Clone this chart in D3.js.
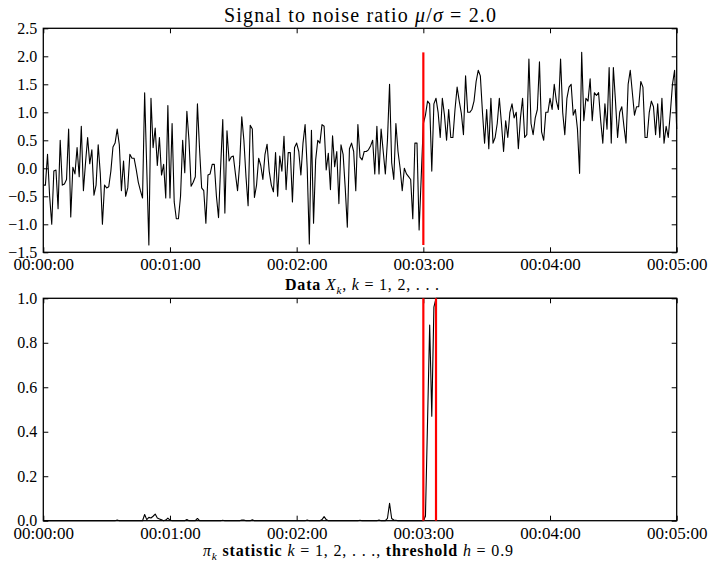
<!DOCTYPE html>
<html>
<head>
<meta charset="utf-8">
<script src="https://cdn.jsdelivr.net/npm/d3@7"></script>
<style>
body { margin: 0; background: #fff; }
svg { display: block; font-family: "Liberation Serif", serif; }
</style>
</head>
<body>
<div id="chart-area"></div>
<script>
// observations X_k, one per second from 00:00:00 to 00:05:00
var signal = [
  -0.3, -0.3, 0.25, -0.5, -1.0, -0.05, -0.03, -0.72, 0.5, -0.3,
  -0.28, -0.2, 0.7, -0.87, 0.02, -0.1, 0.37, -0.15, 0.75, -0.4,
  0.1, 0.55, 0.08, 0.33, -0.48, -0.3, 0.42, -0.1, -1.0, -0.3,
  -0.35, -0.33, -0.05, 0.38, 0.45, 0.7, 0.42, -0.4, 0.13, -0.5,
  -0.35, 0.25, 0.18, 0.18, -0.02, -0.25, -0.4, -0.53, 1.35, 0.0,
  -1.37, 1.25, 0.37, 0.72, 0.05, 0.55, -0.12, 0.07, -0.53, 1.12,
  -0.53, 0.8, -0.6, -0.9, -0.9, -0.5, 0.5, -0.08, 1.02, 0.5,
  -0.32, -0.25, -0.15, 1.15, 0.35, -0.35, -0.4, -0.98, -0.12, -0.1,
  0.07, 0.07, -0.5, -0.88, 0.03, 0.87, -0.8, 0.67, 0.13, 0.2,
  0.22, -0.1, -0.4, 0.07, 0.92, 0.5, -0.15, -0.67, 0.77, 0.7,
  -0.52, -0.3, 0.18, 0.05, -0.2, 0.25, 0.43, -0.05, -0.3, -0.42,
  0.28, -0.5, 0.22, -0.05, 0.57, -0.38, 0.28, 0.28, -0.6, 0.37,
  0.45, 0.3, -0.12, 0.45, 0.78, 0.0, -1.35, 0.68, -0.98, 0.15,
  0.5, 0.45, 0.78, 0.75, -0.03, 0.27, -0.38, 0.58, 0.03, 0.3,
  -0.63, 0.42, 0.25, -0.35, -1.05, 0.35, 0.45, 0.3, -0.4, 0.78,
  0.2, 0.15, 0.3, 0.3, 0.33, 0.4, 0.5, -0.1, 0.75, -0.1,
  0.7, 0.3, -0.1, 0.5, 1.5, 0.1, -0.2, 0.8, 0.3, 0.0,
  -0.4, 0.0, -0.1, -0.15, -0.2, -0.9, 0.45, 0.45, -1.1, -0.15,
  0.8, 0.95, 1.2, 1.15, -0.05, 1.15, 1.25, 1.0, 0.55, 1.25,
  0.95, 0.5, 1.05, 0.55, 0.55, 1.05, 1.45, 1.2, 0.98, 0.6,
  1.65, 1.0, 1.0, 1.05, 1.2, 1.55, 1.75, 1.65, 1.0, 0.45,
  1.05, 0.35, 1.25, 0.45, 0.55, 0.8, 1.25, 0.8, 0.3, 0.85,
  0.55, 1.0, 1.15, 0.9, 1.0, 0.35, 0.9, 1.25, 0.55, 0.6,
  1.95, 0.8, 0.6, 0.9, 1.05, 1.9, 0.65, 0.5, 1.0, 1.0,
  1.25, 1.05, 1.5, 1.2, 1.05, 1.95, 1.0, 0.6, 1.25, 1.45,
  1.5, 0.95, 1.05, 0.7, -0.09, 2.07, 0.85, 1.25, 1.2, 1.6,
  0.85, 1.35, 1.3, 1.35, 0.85, 0.45, 1.15, 0.7, 1.8, 0.45,
  1.8, 1.2, 0.55, 1.0, 1.1, 0.75, 0.45, 1.5, 1.75, 1.35,
  0.95, 1.1, 1.1, 1.55, 1.45, 0.55, 0.55, 1.0, 1.2, 1.1,
  0.6, 1.15, 0.55, 1.25, 0.45, 0.75, 0.55, 1.0, 1.5, 1.75,
  0.7
];

// pi_k statistic, same time grid
var piStat = [
  0, 0, 0, 0, 0, 0, 0, 0, 0, 0,
  0, 0, 0, 0, 0, 0, 0, 0, 0, 0,
  0, 0, 0, 0, 0, 0, 0, 0, 0, 0,
  0, 0, 0, 0, 0, 0.003, 0, 0, 0, 0,
  0, 0, 0, 0, 0, 0, 0, 0, 0.028, 0.005,
  0.015, 0.012, 0.02, 0.03, 0.012, 0.008, 0.004, 0, 0.003, 0.012,
  0.003, 0, 0, 0, 0, 0, 0, 0, 0.005, 0,
  0, 0, 0, 0.01, 0, 0, 0, 0, 0, 0,
  0, 0, 0, 0, 0, 0.002, 0, 0, 0, 0,
  0, 0, 0, 0, 0.003, 0.003, 0, 0, 0, 0.004,
  0, 0, 0, 0, 0, 0, 0, 0, 0, 0,
  0, 0, 0, 0, 0, 0, 0, 0, 0, 0,
  0, 0, 0, 0, 0, 0.003, 0, 0, 0, 0,
  0, 0, 0.005, 0.018, 0.005, 0, 0, 0, 0, 0,
  0, 0, 0, 0, 0, 0, 0, 0, 0, 0,
  0.002, 0, 0, 0, 0, 0, 0, 0, 0, 0.003,
  0, 0, 0, 0.01, 0.078, 0.01, 0.003, 0.002, 0, 0,
  0, 0, 0, 0, 0, 0, 0, 0, 0, 0,
  0, 0.02, 0.45, 0.88, 0.47, 0.96, 1, 1, 1, 1,
  1, 1, 1, 1, 1, 1, 1, 1, 1, 1,
  1, 1, 1, 1, 1, 1, 1, 1, 1, 1,
  1, 1, 1, 1, 1, 1, 1, 1, 1, 1,
  1, 1, 1, 1, 1, 1, 1, 1, 1, 1,
  1, 1, 1, 1, 1, 1, 1, 1, 1, 1,
  1, 1, 1, 1, 1, 1, 1, 1, 1, 1,
  1, 1, 1, 1, 1, 1, 1, 1, 1, 1,
  1, 1, 1, 1, 1, 1, 1, 1, 1, 1,
  1, 1, 1, 1, 1, 1, 1, 1, 1, 1,
  1, 1, 1, 1, 1, 1, 1, 1, 1, 1,
  1, 1, 1, 1, 1, 1, 1, 1, 1, 1,
  1
];

var changeSec = 180;   // true change point
var alarmSec = 186;    // pi_k crosses threshold
var topTicks = [-1.5, -1.0, -0.5, 0.0, 0.5, 1.0, 1.5, 2.0, 2.5];
var bottomTicks = [0.0, 0.2, 0.4, 0.6, 0.8, 1.0];
var minuteTicks = [0, 1, 2, 3, 4, 5];

var W = 711, H = 563;
var left = 43.3, right = 676.7;
var sec = function(s){ return new Date(s * 1000); };

var svg = d3.select("#chart-area")
  .append("svg")
    .attr("width", W)
    .attr("height", H);

var x = d3.scaleUtc()
  .domain([sec(0), sec(300)])
  .range([left, right]);
var fmt = d3.utcFormat("%H:%M:%S");
var xTickVals = minuteTicks.map(function(m){ return sec(m * 60); });

// rich text helper: parts = [{t, i (italic), sub, b (bold)}]
function rich(g, xPos, yPos, size, len, parts){
  var txt = g.append("text")
    .attr("x", xPos).attr("y", yPos)
    .attr("font-size", size + "px")
    .attr("text-anchor", "middle")
    .attr("fill", "#000");
  var shifted = false;
  parts.forEach(function(p){
    var ts = txt.append("tspan").text(p.t);
    if (p.i) ts.attr("font-style", "italic");
    if (p.b) ts.attr("font-weight", "bold");
    if (p.sub) {
      ts.attr("font-size", (size * 0.7) + "px").attr("dy", size * 0.22);
      shifted = true;
    } else if (shifted) {
      ts.attr("dy", -size * 0.22);
      shifted = false;
    }
  });
  if (len) txt.attr("textLength", len).attr("lengthAdjust", "spacing");
  return txt;
}

function panel(top, bottom, domain, ticks, values, tickFmt){
  var y = d3.scaleLinear().domain(domain).range([bottom, top]);
  var g = svg.append("g");

  var line = d3.line()
    .x(function(d, i){ return x(sec(i)); })
    .y(function(d){ return y(d); });

  g.append("path")
    .datum(values)
    .attr("fill", "none")
    .attr("stroke", "#000")
    .attr("stroke-width", 1.1)
    .attr("stroke-linejoin", "round")
    .attr("d", line);

  // ticks pointing inward on all four sides
  var bAx = g.append("g").attr("transform", "translate(0," + bottom + ")")
    .call(d3.axisBottom(x).tickValues(xTickVals).tickSizeInner(-5).tickSizeOuter(0).tickPadding(6).tickFormat(fmt));
  bAx.selectAll("text")
    .attr("font-family", "Liberation Serif, serif")
    .attr("font-size", "17px")
    .attr("fill", "#000");

  g.append("g").attr("transform", "translate(0," + top + ")")
    .call(d3.axisTop(x).tickValues(xTickVals).tickSizeInner(-5).tickSizeOuter(0).tickFormat(""));

  var lAx = g.append("g").attr("transform", "translate(" + left + ",0)")
    .call(d3.axisLeft(y).tickValues(ticks).tickSizeInner(-5).tickSizeOuter(0).tickPadding(6).tickFormat(tickFmt));
  lAx.selectAll("text")
    .attr("font-family", "Liberation Serif, serif")
    .attr("font-size", "16px")
    .attr("fill", "#000");

  g.append("g").attr("transform", "translate(" + right + ",0)")
    .call(d3.axisRight(y).tickValues(ticks).tickSizeInner(-5).tickSizeOuter(0).tickFormat(""));

  g.selectAll(".domain").remove();
  g.selectAll(".tick line").attr("stroke", "#000").attr("stroke-width", 1);

  g.append("rect")
    .attr("x", left).attr("y", top)
    .attr("width", right - left).attr("height", bottom - top)
    .attr("fill", "none")
    .attr("stroke", "#000")
    .attr("stroke-width", 1.3);

  return {g: g, y: y};
}

// top: the data
var p1 = panel(28.3, 252.3, [-1.5, 2.5], topTicks, signal, d3.format(".1f"));
var ext = d3.extent(signal);
p1.g.append("line")
  .attr("x1", x(sec(changeSec))).attr("x2", x(sec(changeSec)))
  .attr("y1", p1.y(ext[0])).attr("y2", p1.y(ext[1]))
  .attr("stroke", "#ff0000")
  .attr("stroke-width", 2.2);

// bottom: pi_k statistic
var p2 = panel(298.3, 520.7, [0, 1], bottomTicks, piStat, d3.format(".1f"));
[changeSec, alarmSec].forEach(function(s){
  p2.g.append("line")
    .attr("x1", x(sec(s))).attr("x2", x(sec(s)))
    .attr("y1", p2.y(0)).attr("y2", p2.y(1))
    .attr("stroke", "#ff0000")
    .attr("stroke-width", 2.2);
});

// titles and labels
rich(svg, 360, 22, 20, 272, [
  {t: "Signal to noise ratio "}, {t: "μ", i: true}, {t: "/"}, {t: "σ", i: true}, {t: " = 2.0"}
]);
rich(svg, 362, 290, 16, 154, [
  {t: "Data ", b: true}, {t: "X", i: true}, {t: "k", i: true, sub: true}, {t: ", "},
  {t: "k", i: true}, {t: " = 1, 2, . . ."}
]);
rich(svg, 358, 556, 16, 310, [
  {t: "π", i: true}, {t: "k", i: true, sub: true}, {t: " statistic ", b: true},
  {t: "k", i: true}, {t: " = 1, 2, . . ., "}, {t: "threshold ", b: true},
  {t: "h", i: true}, {t: " = 0.9"}
]);
</script>
</body>
</html>
